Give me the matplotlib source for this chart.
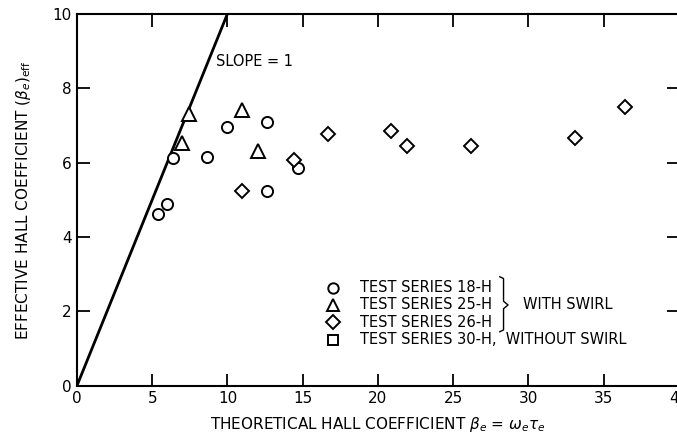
import matplotlib
matplotlib.use("Agg")
import matplotlib.pyplot as plt

# values
series_18h_x = [5.4, 5.95, 6.4, 8.65, 9.95, 12.6, 12.6, 14.7]
series_18h_y = [4.62, 4.88, 6.11, 6.14, 6.95, 7.08, 5.23, 5.84]
series_25h_x = [7.45, 6.95, 10.95, 12.0]
series_25h_y = [7.31, 6.52, 7.42, 6.30]
series_26h_x = [10.95, 14.4, 16.7, 20.9, 21.95, 26.2, 33.1, 36.45]
series_26h_y = [5.23, 6.06, 6.76, 6.86, 6.44, 6.44, 6.65, 7.5]
slope_x = [0, 10]
slope_y = [0, 10]

x_ticks = [0, 5, 10, 15, 20, 25, 30, 35, 40]
y_ticks = [0, 2, 4, 6, 8, 10]

legend_labels = ["TEST SERIES 18-H", "TEST SERIES 25-H", "TEST SERIES 26-H",
                 "TEST SERIES 30-H,  WITHOUT SWIRL"]
legend_markers = ["o", "^", "D", "s"]
legend_rows_y = [2.63, 2.17, 1.70, 1.23]

FS = 10.5
mk = dict(linestyle="none", markerfacecolor="white", markeredgecolor="black",
          markeredgewidth=1.4, color="black")

fig = plt.figure(figsize=(6.77, 4.45), dpi=100)
ax = fig.add_axes([0.1137, 0.1333, 0.889, 0.8357])

ax.plot(slope_x, slope_y, color="black", linewidth=2.0, solid_capstyle="butt")
ax.plot(series_18h_x, series_18h_y, marker="o", markersize=8, **mk)
ax.plot(series_25h_x, series_25h_y, marker="^", markersize=9.5, **mk)
ax.plot(series_26h_x, series_26h_y, marker="D", markersize=7.5, **mk)

ax.text(9.23, 8.72, "SLOPE = 1", fontsize=FS, va="center", ha="left")

# legend drawn by hand, like the original
sizes = {"o": 7.5, "^": 9, "D": 7, "s": 7}
for lab, m, yy in zip(legend_labels, legend_markers, legend_rows_y):
    ax.plot([17.0], [yy], marker=m, markersize=sizes[m], clip_on=False, **mk)
    ax.text(18.8, yy, lab, fontsize=FS, va="center", ha="left")

# brace grouping the swirl series
top, mid, bot = legend_rows_y[0] + 0.25, legend_rows_y[1], legend_rows_y[2] - 0.2
bx = 28.35
ax.plot([bx - 0.25, bx, bx, bx + 0.3, bx, bx, bx - 0.25],
        [top + 0.05, top, mid + 0.1, mid, mid - 0.1, bot, bot - 0.05],
        color="black", linewidth=1.0)
ax.text(29.65, mid, "WITH SWIRL", fontsize=FS, va="center", ha="left")

ax.set_xlim(0, 40)
ax.set_ylim(0, 10)
ax.set_xticks(x_ticks)
ax.set_yticks(y_ticks)
ax.tick_params(direction="in", length=9, width=1.3, labelsize=11,
               top=True, right=True, pad=4)
for s in ax.spines.values():
    s.set_linewidth(1.5)

ax.set_xlabel(r"THEORETICAL HALL COEFFICIENT $\beta_e$ = $\omega_e\tau_e$",
              fontsize=11, labelpad=6)
ax.set_ylabel(r"EFFECTIVE HALL COEFFICIENT $(\beta_e)_{\rm eff}$",
              fontsize=11, labelpad=14)

fig.savefig("out.png", dpi=100, facecolor="white")
